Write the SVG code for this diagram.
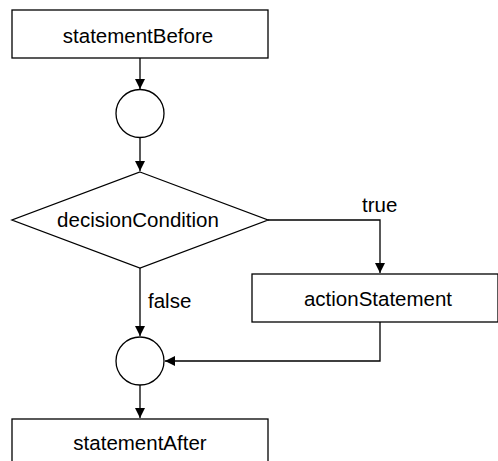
<svg xmlns="http://www.w3.org/2000/svg" width="498" height="461" viewBox="0 0 498 461">
<style>
.s{fill:#fff;stroke:#000;stroke-width:1.3}
.t{font-family:"Liberation Sans",Arial,sans-serif;font-size:20.5px;fill:#000}
.c{text-anchor:middle}
.l{fill:none;stroke:#000;stroke-width:1.3}
</style>
<defs>
<marker id="a" viewBox="0 0 10 10" refX="10" refY="5" markerWidth="10" markerHeight="10" markerUnits="userSpaceOnUse" orient="auto">
<path d="M0,0 L10,5 L0,10 z" fill="#000"/>
</marker>
</defs>
<rect width="498" height="461" fill="#fff"/>
<g id="connectors">
<path class="l" d="M140,58 V89" marker-end="url(#a)"/>
<path class="l" d="M140,137 V171" marker-end="url(#a)"/>
<path class="l" d="M268,220 H380 V273" marker-end="url(#a)"/>
<path class="l" d="M140,268 V336" marker-end="url(#a)"/>
<path class="l" d="M380,322 V361 H165" marker-end="url(#a)"/>
<path class="l" d="M140,385 V418" marker-end="url(#a)"/>
<text class="t" x="362" y="212">true</text>
<text class="t" x="148" y="308">false</text>
</g>
<g id="statementBefore">
<rect class="s" x="12" y="10" width="256" height="48"/>
<text class="t c" x="138" y="43">statementBefore</text>
</g>
<g id="merge1">
<circle class="s" cx="140" cy="113.5" r="24"/>
</g>
<g id="decisionCondition">
<polygon class="s" points="140,172 268,220 140,268 12,220"/>
<text class="t c" x="138" y="227">decisionCondition</text>
</g>
<g id="actionStatement">
<rect class="s" x="252" y="274" width="246" height="48"/>
<text class="t c" x="378" y="306">actionStatement</text>
</g>
<g id="merge2">
<circle class="s" cx="140" cy="361" r="24"/>
</g>
<g id="statementAfter">
<rect class="s" x="12" y="419" width="256" height="50"/>
<text class="t c" x="140" y="450">statementAfter</text>
</g>
</svg>
